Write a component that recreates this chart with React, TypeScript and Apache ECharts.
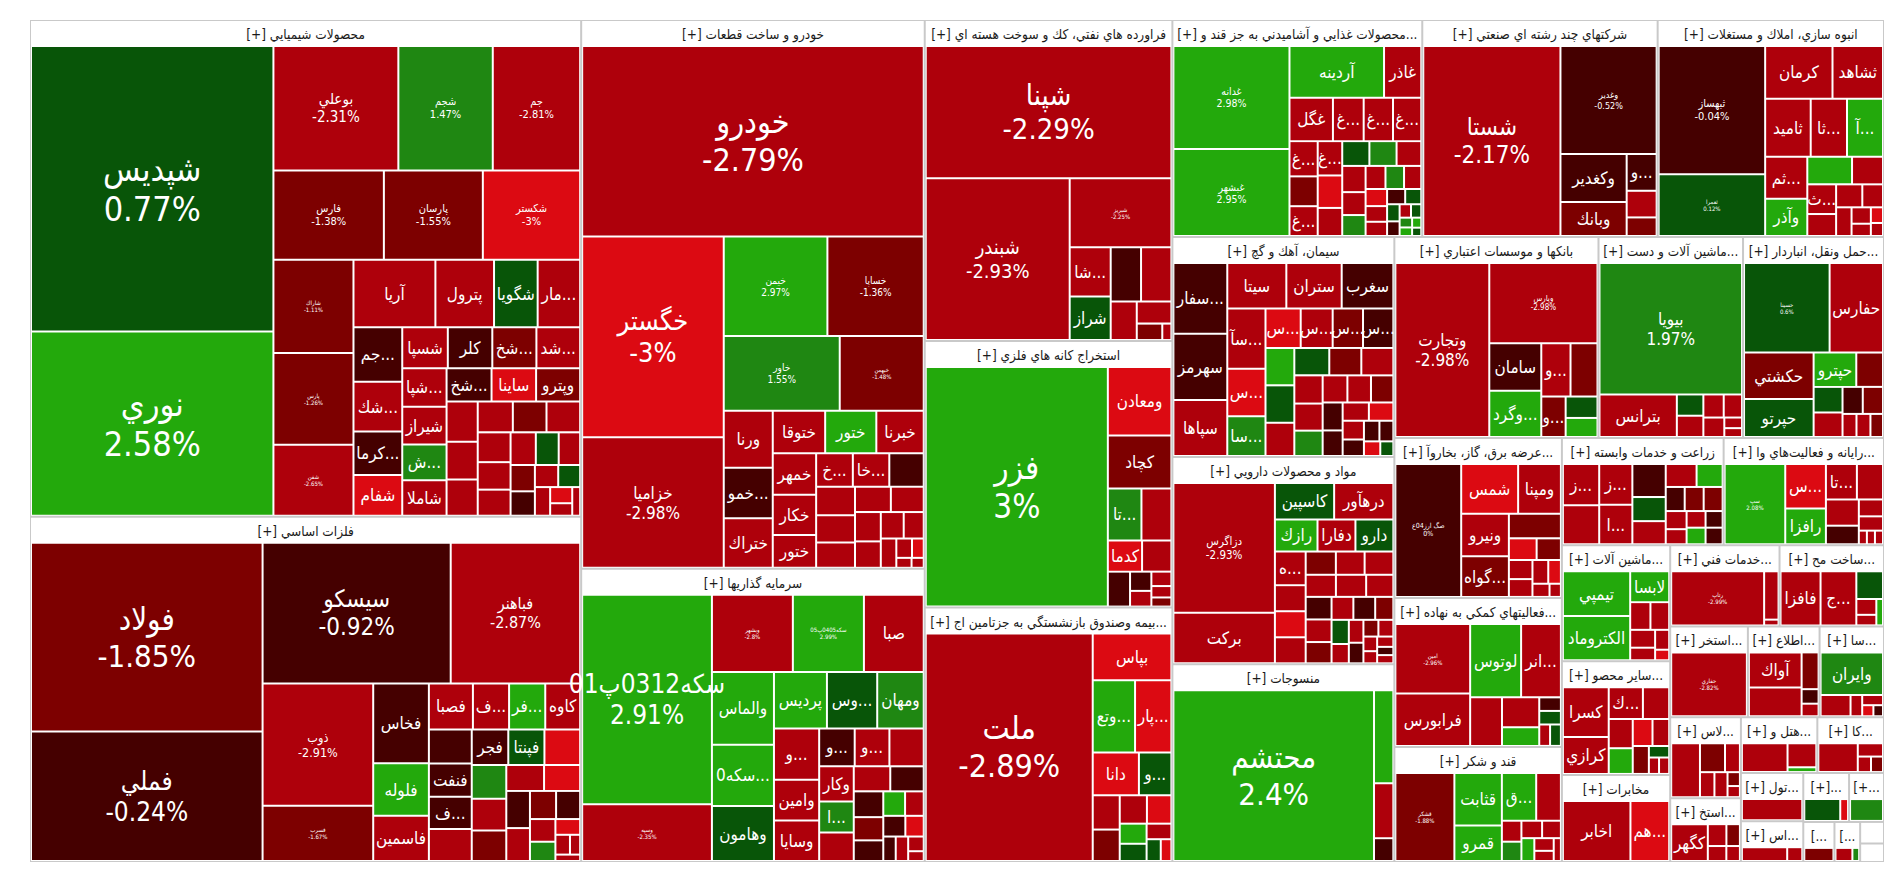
import React, { useEffect, useRef } from 'react';
import * as echarts from 'echarts';

type Leaf = [string, number, number]; // symbol, tile size, % change

const chemicals: Leaf[] = [
  ['شپديس', 48170, 0.77], ['نوري', 31060, 2.58], ['بوعلي', 10830, -2.31], ['شجم', 8185, 1.47],
  ['جم', 7575, -2.81], ['فارس', 6862, -1.38], ['پارسان', 6148, -1.55], ['شكستر', 6046, -3],
  ['شاراك', 5187, -1.11], ['پارس', 5116, -1.26], ['شفن', 3948, -2.65], ['آريا', 3835, -2.4],
  ['پترول', 2745, -2.5], ['شگويا', 2042, 0.6], ['مارون', 1990, -2.3], ['جم پيلن', 1855, -0.6],
  ['شكربن', 1688, -2.5], ['كرماشا', 1470, -0.8], ['شفام', 1386, -3.2], ['شسپا', 1302, -2.6],
  ['كلر', 1271, -0.7], ['شخارك', 1260, -1.6], ['شدوص', 1250, -2.5], ['شپاس', 1187, -2.4],
  ['شيراز', 1166, -2.3], ['شفارس', 1103, 1.3], ['شاملا', 1093, -2.5], ['شخراس', 1040, -0.9],
  ['ساينا', 1030, -3.1], ['وپترو', 1019, -1.7],
  ['', 872, -2.5], ['', 819, -2.4], ['', 787, -2.6], ['', 755, -2.5], ['', 724, -2.7], ['', 724, -1.6],
  ['', 681, -2.5], ['', 628, -2.4], ['', 596, -2.5], ['', 574, -2.6], ['', 520, 0.5], ['', 488, -2.5],
  ['', 445, -1.5], ['', 413, -0.5], ['', 358, -2.5], ['', 337, 0.5], ['', 304, -2.5], ['', 248, -3.2],
  ['', 192, -2.5], ['', 158, -2.4],
];

const metals: Leaf[] = [
  ['فولاد', 30300, -1.85], ['فملي', 20800, -0.24], ['سيسكو', 18370, -0.92], ['فباهنر', 12640, -2.87],
  ['ذوب', 9380, -2.91], ['فسرب', 4230, -1.67], ['فخاس', 3080, -0.7], ['فلوله', 2020, 2.5],
  ['فاسمين', 1750, -2.1], ['فصبا', 1400, -2.4], ['فروس', 1150, 2.2], ['فنورد', 1150, -2.5],
  ['كاوه', 1110, -2.6], ['فنفت', 990, -0.8], ['فسازان', 960, -0.7], ['فجر', 900, -0.6], ['فپنتا', 890, 0.5],
  ['', 1010, -0.6], ['', 950, -2.5], ['', 880, -3.2], ['', 810, 1.3], ['', 760, -2.5], ['', 730, -1.6],
  ['', 680, -2.5], ['', 650, -3.2], ['', 610, -0.6], ['', 540, -2.5], ['', 510, -1.6], ['', 470, -0.5],
  ['', 400, -2.5], ['', 340, 1.3], ['', 270, -3.2], ['', 200, -2.5], ['', 140, -2.5], ['', 110, -2.5],
];

const autos: Leaf[] = [
  ['خودرو', 42970, -2.79], ['خگستر', 18760, -3], ['خزاميا', 12200, -2.98], ['خيمن', 6800, 2.97],
  ['خساپا', 6320, -1.36], ['خاور', 5730, 1.55], ['خبهمن', 4150, -1.48], ['ورنا', 1840, -2.4],
  ['خموتور', 1640, -0.6], ['ختراك', 1600, -2.3], ['ختوقا', 1470, -2.5], ['ختور', 1435, 2.4],
  ['خبرنا', 1330, -2.4], ['خمهر', 1190, -2.5], ['خكار', 1150, -2.5], ['ختور', 940, -2.6],
  ['خديزل', 810, -2.5], ['خاذين', 805, -2.5], ['فنر', 730, -2.4],
  ['', 760, -0.6], ['', 700, -2.5], ['', 650, -2.5], ['', 600, -2.4], ['', 550, -2.5], ['', 500, -2.6],
  ['', 450, -2.5], ['', 400, -2.4], ['', 350, -2.5], ['', 300, -2.5], ['', 200, -2.5], ['', 150, -3.2],
  ['', 100, -2.5], ['', 80, -2.5],
];

const investments: Leaf[] = [
  ['سكه0312پ01', 17850, 2.91], ['وسپه', 4830, -2.35], ['وبشهر', 4100, -2.8], ['سكه0405پ05', 3600, 2.99],
  ['صبا', 3030, -2.4], ['والماس', 2960, 2.3], ['سكه0411پ04', 2500, 2.3], ['وهامون', 2240, 0.6],
  ['پرديس', 1970, 2.3], ['وسبحان', 1870, 0.6], ['ومهان', 1730, 1.4], ['وسمنان', 1520, -2.5],
  ['وامين', 1210, -2.4], ['وسايا', 1200, -2.5], ['وتوسم', 880, -0.6], ['ونيكي', 860, -2.5],
  ['', 850, -2.5], ['وكار', 800, -2.5], ['اتكاي', 700, 1.3],
  ['', 650, -2.5], ['', 600, -2.5], ['', 550, -0.6], ['', 500, -0.5], ['', 450, -1.6], ['', 400, -0.6],
  ['', 350, 2.3], ['', 300, -0.5], ['', 300, -2.5], ['', 250, -3.2], ['', 200, -2.5], ['', 200, -0.6],
  ['', 150, -2.4], ['', 100, -2.5],
];

const refinery: Leaf[] = [
  ['شپنا', 21700, -2.29], ['شبندر', 15540, -2.93], ['شبريز', 4680, -2.25], ['شاوان', 1350, -2.5],
  ['شراز', 1190, 0.6], ['', 1100, -2.5], ['', 1100, -0.6], ['', 670, -2.5], ['', 510, -2.5],
  ['', 280, -1.6], ['', 100, -2.5],
];

const mining: Leaf[] = [
  ['فزر', 28670, 3], ['ومعادن', 2860, -3.3], ['كچاد', 2210, -1.6], ['تاپيكو', 1150, 1.4],
  ['', 1025, -2.5], ['كدما', 700, -3.1], ['', 600, -2.5], ['', 510, -0.6], ['', 270, -0.6],
  ['', 220, -2.5], ['', 190, -2.5], ['', 150, -2.5], ['', 120, -1.6],
];

const insurance: Leaf[] = [
  ['ملت', 24600, -2.89], ['بپاس', 2380, -3.1], ['وتعاون', 1980, 2.3], ['پارسيان', 1700, -3.1],
  ['دانا', 1280, -3], ['وميهن', 900, 0.6],
  ['', 600, -2.5], ['', 550, -1.6], ['', 500, -2.5], ['', 450, -3.1], ['', 350, 2.3], ['', 300, 0.6],
  ['', 250, -2.5], ['', 200, 0.6], ['', 150, -3.1],
];

const foods: Leaf[] = [
  ['غدانه', 7810, 2.98], ['غبشهر', 6600, 2.95], ['آردينه', 3200, 2.5], ['غاذر', 1260, -2.4],
  ['غگل', 1230, -2.5], ['غپينو', 870, -2.4], ['غمينو', 830, -2.5], ['غشهد', 800, -2.5],
  ['غبهنوش', 650, -2.4], ['غنوش', 550, -2.5], ['غگرجي', 550, -2.4],
  ['', 550, -1.6], ['', 520, -3.1], ['', 440, 1.4], ['', 440, 0.6], ['', 400, -2.5],
  ['', 450, -2.5], ['', 400, -2.5], ['', 350, -2.5], ['', 320, 1.4], ['', 300, -2.5], ['', 280, 1.4],
  ['', 260, -2.5], ['', 240, -3.2], ['', 220, -2.5], ['', 200, -2.5], ['', 180, -0.6], ['', 160, 0.6],
  ['', 140, 0.6], ['', 120, -0.6], ['', 100, -2.5], ['', 90, 0.6], ['', 80, 1.4], ['', 70, 2.4],
  ['', 60, 2.4], ['', 50, 0.6],
];

const conglomerates: Leaf[] = [
  ['شستا', 17300, -2.17], ['وغدير', 6900, -0.52], ['وكغدير', 2100, -0.7], ['وبانك', 1500, -1.6],
  ['وصنا', 730, -0.6], ['', 530, -2.5], ['', 370, -1.6],
];

const realEstate: Leaf[] = [
  ['ثبهساز', 8630, -0.04], ['ثعمرا', 4150, 0.12], ['كرمان', 2240, -2.5], ['ثشاهد', 1680, -2.5],
  ['ثاميد', 1670, -2.5], ['ثالوند', 1330, -2.5], ['آ س پ', 1320, 2.3], ['ثمسكن', 1120, -2.5],
  ['وآذر', 990, 2.3], ['', 780, 2.3], ['ثنوسا', 540, -2.5], ['وساخت', 540, -2.5],
  ['', 400, -2.5], ['', 380, -2.5], ['', 300, -2.5], ['', 280, -2.5], ['', 200, -2.5], ['', 150, -2.5],
  ['', 120, -3.2], ['', 100, -2.5],
];

const cement: Leaf[] = [
  ['سفارس', 2390, -0.7], ['سهرمز', 2230, -0.6], ['سپاها', 1890, -2.5], ['سيتا', 1680, -2.5],
  ['ستران', 1575, -2.4], ['سغرب', 1470, -0.6], ['سآبيك', 1440, -2.5], ['سخاش', 1140, -3.1],
  ['سارود', 950, 1.4], ['سصوفي', 870, -3.1], ['سشمال', 790, -2.5], ['سكرما', 750, -0.6],
  ['سبهان', 750, -1.2], ['', 675, 0.6], ['', 675, 2.3], ['', 600, 0.6], ['', 550, -2.5],
  ['', 600, -2.5], ['', 550, -1.6], ['', 500, -2.5], ['', 480, -2.5], ['', 450, 1.3], ['', 420, -2.5],
  ['', 400, -2.5], ['', 380, -1.6], ['', 350, -0.6], ['', 320, -0.6], ['', 300, -2.5], ['', 280, -3.2],
  ['', 250, -2.5], ['', 220, -0.6], ['', 200, -0.6], ['', 180, -0.6], ['', 150, -3.2], ['', 120, 0.6],
];

const pharma: Leaf[] = [
  ['دزاگرس', 7880, -2.93], ['بركت', 3080, -2.5], ['درهآور', 1290, -2.5], ['كاسپين', 1290, 0.6],
  ['رازك', 820, 2.3], ['دارو', 730, 0.6], ['دفارا', 730, -2.5], ['هپارس', 620, -2.5],
  ['', 480, -2.5], ['', 480, -3.2], ['', 480, -2.5], ['', 420, -1.6], ['', 400, -2.5], ['', 400, -2.5],
  ['', 400, -2.5], ['', 400, -2.5], ['', 360, -2.5], ['', 350, -2.5], ['', 350, -0.6], ['', 330, -1.6],
  ['', 300, -0.6], ['', 300, -2.5], ['', 250, 0.6], ['', 250, -1.6], ['', 200, -2.5], ['', 200, -2.5],
  ['', 180, -0.6], ['', 150, -2.5], ['', 150, -1.6], ['', 120, -2.5], ['', 100, -2.5], ['', 100, -2.5],
  ['', 80, -2.5], ['', 80, -0.6],
];

const textiles: Leaf[] = [
  ['محتشم', 22500, 2.4], ['', 1180, 2.3], ['', 700, -2.5], ['', 290, -0.6],
];

const banks: Leaf[] = [
  ['وتجارت', 10780, -2.98], ['وپارس', 5720, -2.98], ['سامان', 1630, -0.6], ['وگردش', 1590, 2.3],
  ['وسينا', 1030, -2.5], ['', 950, -1.6], ['وخاور', 650, -1.6], ['', 450, 0.6], ['', 400, 2.3],
];

const electrical: Leaf[] = [
  ['بيويا', 11960, 1.97], ['بترانس', 2100, -2.5], ['', 360, -2.5], ['', 360, 0.6], ['', 300, -2.5],
  ['', 270, -2.5], ['', 260, -2.5], ['', 120, -2.5], ['', 100, -2.5],
];

const transport: Leaf[] = [
  ['حسينا', 4760, 0.6], ['حفارس', 2970, -2.5], ['حكشتي', 2010, -1.6], ['حپرتو', 1640, 0.6],
  ['حپترو', 910, 2.3], ['', 570, -1.6], ['', 460, 0.6], ['', 440, -2.5], ['', 340, -1.6],
  ['', 340, -0.6], ['', 200, -2.5], ['', 200, -2.5], ['', 180, -1.6],
];

const utilities: Leaf[] = [
  ['صگ ارز04ع', 5830, 0], ['شمس', 1890, -3.1], ['ومپنا', 1420, -2.5], ['ونيرو', 1350, -2.5],
  ['گواهي ظرفيت', 1290, -1.6], ['بجهرم', 850, -1.6],
  ['', 400, -3.2], ['', 350, -1.6], ['', 300, -2.5], ['', 280, -2.5], ['', 250, -2.5], ['', 200, -3.2],
  ['', 150, -2.5], ['', 100, -2.5],
];

const farming: Leaf[] = [
  ['زمگسا', 950, -2.5], ['', 900, -2.5], ['زشريف', 860, -2.5], ['انگبين', 830, -2.5], ['', 700, -0.6],
  ['', 510, 0.6], ['', 490, -2.5], ['', 450, -2.5], ['', 380, 2.3], ['', 290, -1.6], ['', 290, -1.6],
  ['', 290, -0.6], ['', 240, -2.5], ['', 200, 2.3], ['', 200, -2.5], ['', 200, -2.5], ['', 180, -0.6],
  ['', 180, -0.6],
];

const computing: Leaf[] = [
  ['سپ', 3100, 2.08], ['سيستم', 1150, -3.1], ['رافزا', 930, 2.3], ['تاپكيش', 700, -2.5],
  ['', 590, -2.5], ['', 550, -2.5], ['', 390, -0.6], ['', 260, -2.5], ['', 220, -2.5],
  ['', 70, -2.5], ['', 70, -2.5], ['', 70, -2.5],
];

const financialAux: Leaf[] = [
  ['امين', 3360, -2.96], ['فرابورس', 2540, -2.5], ['لوتوس', 2420, 2.3], ['انرژي3', 1890, -2.5],
  ['', 1000, -2.5], ['', 720, -2.5], ['', 450, 2.3], ['', 190, 0.6], ['', 150, 0.6], ['', 190, -0.6],
  ['', 150, -2.5],
];

const sugar: Leaf[] = [
  ['قشكر', 3170, -1.88], ['قثابت', 1520, 2.3], ['قمرو', 1030, 2.3], ['قشير', 1000, 2.3], ['', 720, -2.5],
  ['', 250, -2.5], ['', 230, 1.4], ['', 220, -2.5], ['', 200, -2.5], ['', 180, 2.3], ['', 150, -2.5],
  ['', 120, -2.5], ['', 100, -2.5],
];

const machinery: Leaf[] = [
  ['تيمپي', 1820, 2.3], ['الكتروماد', 1810, 2.3], ['لابسا', 730, 2.3], ['', 340, -2.5], ['', 315, -2.5],
  ['', 270, -2.5], ['', 190, -2.5], ['', 170, -2.5], ['', 90, -3.2],
];

const engineering: Leaf[] = [['رتاپ', 3030, -2.99], ['', 420, -2.5], ['', 50, -2.5]];

const metalProducts: Leaf[] = [
  ['فافزا', 1230, -2.5], ['جوين', 1100, -2.5], ['', 420, 0.6], ['', 180, -2.5], ['', 120, -2.5], ['', 100, 2.3],
];

const minerals: Leaf[] = [
  ['كسرا', 1365, -2.5], ['كرازي', 1015, -2.5], ['كفپارس', 650, -2.5], ['', 500, -2.5], ['', 420, -2.5],
  ['', 370, 2.3], ['', 320, -3.2], ['', 270, -1.6], ['', 270, -2.5], ['', 140, 0.6], ['', 100, -2.5],
  ['', 100, -2.5],
];

const telecom: Leaf[] = [['اخابر', 2650, -2.5], ['همراه', 1520, -3.1]];
const oilGas: Leaf[] = [['حفاري', 3000, -2.82]];
const infoComm: Leaf[] = [
  ['آواك', 1130, -2.5], ['هاي وب', 920, -2.5], ['', 380, -1.6], ['', 150, -0.6], ['', 130, -2.5],
];
const commDevices: Leaf[] = [
  ['وايران', 1500, 1.4], ['', 360, -2.5], ['', 140, -2.5], ['', 120, -2.5], ['', 70, -3.2], ['', 60, -0.6],
];
const rubber: Leaf[] = [
  ['', 900, -2.5], ['', 420, -1.6], ['', 250, -2.5], ['', 210, -2.5], ['', 190, -2.5], ['', 100, -1.6], ['', 80, -2.5],
];
const otherMining: Leaf[] = [
  ['كگهر', 730, -2.5], ['', 220, -2.5], ['', 160, -1.6], ['', 150, -2.5], ['', 110, -2.5],
];
const hotels: Leaf[] = [['', 760, -2.5], ['', 400, -2.5], ['', 80, 2.3]];
const tiles: Leaf[] = [['', 610, -2.5], ['', 180, -2.5], ['', 110, -2.5], ['', 100, -1.6]];
const electronics: Leaf[] = [['', 780, -2.5]];
const printing: Leaf[] = [['', 460, 0.6], ['', 100, -3.1]];
const wood: Leaf[] = [['', 370, 1.4]];
const coal: Leaf[] = [['', 360, -2.5], ['', 120, -2.5]];
const woodProducts: Leaf[] = [['', 210, -1.6]];
const paper: Leaf[] = [['', 150, -2.5], ['', 60, 1.4]];
const leather: Leaf[] = [['', 50, -2.5]];
const misc: Leaf[] = [['', 50, -2.5]];

const sectorNames = [
  'محصولات شيميايي', 'فلزات اساسي', 'خودرو و ساخت قطعات', 'سرمايه گذاريها',
  'فراورده هاي نفتي، كك و سوخت هسته اي', 'استخراج كانه هاي فلزي', 'بيمه وصندوق بازنشستگي به جزتامين اجتماعي',
  'محصولات غذايي و آشاميدني به جز قند و شكر', 'شركتهاي چند رشته اي صنعتي', 'انبوه سازي، املاك و مستغلات',
  'سيمان، آهك و گچ', 'مواد و محصولات دارويي', 'منسوجات', 'بانكها و موسسات اعتباري',
  'ماشين آلات و دستگاه هاي برقي', 'حمل ونقل، انبارداري و ارتباطات', 'عرضه برق، گاز، بخاروآب گرم',
  'زراعت و خدمات وابسته', 'رايانه و فعاليت‌هاي وابسته به آن', 'فعاليتهاي كمكي به نهادهاي مالي واسط',
  'قند و شكر', 'ماشين آلات و تجهيزات', 'خدمات فني و مهندسي', 'ساخت محصولات فلزي',
  'ساير محصولات كاني غيرفلزي', 'مخابرات', 'استخراج نفت گاز و خدمات جنبي جز اكتشاف', 'اطلاعات و ارتباطات',
  'ساخت دستگاه‌ها و وسايل ارتباطي', 'لاستيك و پلاستيك', 'استخراج ساير معادن', 'هتل و رستوران',
  'كاشي و سراميك', 'توليد محصولات كامپيوتري الكترونيكي ونوري', 'انتشار، چاپ و تكثير', 'چوب',
  'استخراج زغال سنگ', 'محصولات چوبي', 'محصولات كاغذي', 'دباغي، پرداخت چرم', 'ساير',
];

const sectorSizes = [
  186140, 129390, 128200, 68490, 54060, 44880, 42840, 36870, 34730, 33400,
  33200, 31290, 29830, 27890, 19750, 19260, 18220, 11800, 11700, 16970,
  13110, 8540, 6030, 5760, 8370, 6410, 4800, 4430, 3980, 3890,
  3070, 2900, 2530, 2040, 1520, 1160, 1730, 850, 700, 350, 300,
];

const sectorLeaves = [
  chemicals, metals, autos, investments, refinery, mining, insurance, foods, conglomerates, realEstate,
  cement, pharma, textiles, banks, electrical, transport, utilities, farming, computing, financialAux,
  sugar, machinery, engineering, metalProducts, minerals, telecom, oilGas, infoComm, commDevices, rubber,
  otherMining, hotels, tiles, electronics, printing, wood, coal, woodProducts, paper, leather, misc,
];

// font size (px) for tiles that show symbol and % change
const pctLabelSize: Record<string, number> = {
  'شپديس': 34, 'نوري': 34, 'خودرو': 32, 'فولاد': 31, 'ملت': 32, 'فزر': 33, 'محتشم': 31, 'شپنا': 29,
  'خگستر': 27, 'فملي': 26, 'سكه0312پ01': 26, 'سيسكو': 24, 'شستا': 24, 'شبندر': 20, 'خزاميا': 17,
  'وتجارت': 17, 'بيويا': 17, 'فباهنر': 16, 'بوعلي': 15, 'ذوب': 12.5, 'دزاگرس': 11.5, 'جم': 11,
  'شجم': 11, 'فارس': 11, 'پارسان': 11, 'شكستر': 11, 'ثبهساز': 11, 'غدانه': 10.5, 'غبشهر': 10.5,
  'خيمن': 10, 'خساپا': 10, 'خاور': 10, 'وغدير': 9, 'وپارس': 8,
  'شاراك': 6, 'پارس': 6, 'شفن': 6, 'فسرب': 6, 'خبهمن': 6, 'وسپه': 6, 'وبشهر': 6, 'سكه0405پ05': 6,
  'شبريز': 6, 'ثعمرا': 6, 'حسينا': 6, 'صگ ارز04ع': 7, 'سپ': 6, 'امين': 6, 'قشكر': 6, 'رتاپ': 6, 'حفاري': 6,
};

function colorFor(p: number): string {
  if (p >= 2) return '#23a90c';
  if (p >= 1) return '#1f8712';
  if (p > 0) return '#085508';
  if (p > -1) return '#450000';
  if (p > -2) return '#7d0000';
  if (p > -3) return '#ae000b';
  return '#dc0a12';
}

const FONT = '"DejaVu Sans Condensed", "Noto Sans", "DejaVu Sans", sans-serif';
const HEADER_SIZE = 13.5;
const NAME_SIZE = 17;

function buildData() {
  return sectorNames.map((name, i) => ({
    name,
    value: sectorSizes[i],
    children: sectorLeaves[i].map(([n, v, p]) => {
      const fs = pctLabelSize[n];
      const item: any = { name: n, value: v, pct: p, itemStyle: { color: colorFor(p) } };
      if (fs) item.label = { fontSize: fs, lineHeight: Math.round(fs * 1.18) };
      else if (!n) item.label = { show: false };
      return item;
    }),
  }));
}

function makeOption(fitted: Record<number, string> | null) {
  return {
    animation: false,
    backgroundColor: '#ffffff',
    tooltip: { show: false },
    series: [
      {
        type: 'treemap',
        left: 22,
        top: 12,
        width: 1854,
        height: 842,
        roam: false,
        nodeClick: false,
        breadcrumb: { show: false },
        squareRatio: 1,
        sort: 'desc',
        visibleMin: 1,
        silent: true,
        levels: [
          {
            itemStyle: { borderWidth: 1, borderColor: '#c9c9c9', gapWidth: 2, color: '#ffffff' },
            upperLabel: { show: false },
          },
          {
            itemStyle: { borderWidth: 1, borderColor: '#ffffff', gapWidth: 2, color: '#ffffff' },
            upperLabel: {
              show: true,
              height: 26,
              color: '#1a1a1a',
              fontSize: HEADER_SIZE,
              fontFamily: FONT,
              position: 'inside',
              align: 'center',
              verticalAlign: 'middle',
              overflow: fitted ? 'none' : 'truncate',
              ellipsis: '...',
              formatter: (p: any) =>
                fitted && fitted[p.dataIndex] != null ? fitted[p.dataIndex] : '[+] ' + p.name,
            },
          },
          {
            itemStyle: { borderWidth: 0, gapWidth: 0 },
            label: {
              show: true,
              position: 'inside',
              color: '#ffffff',
              fontSize: NAME_SIZE,
              fontFamily: FONT,
              overflow: fitted ? 'none' : 'truncate',
              ellipsis: '...',
              formatter: (p: any) => {
                const d = p.data || {};
                if (!d.name) return '';
                if (pctLabelSize[d.name]) return `${d.name}\n${d.pct}%`;
                return fitted && fitted[p.dataIndex] != null ? fitted[p.dataIndex] : d.name;
              },
            },
          },
        ],
        data: buildData(),
      },
    ],
  };
}

function fitText(full: string, avail: number, size: number, ctx: CanvasRenderingContext2D): string {
  ctx.font = `${size}px ${FONT}`;
  if (ctx.measureText(full).width <= avail) return full;
  for (let k = full.length - 1; k >= 1; k--) {
    const t = full.slice(0, k).replace(/\s+$/, '') + '...';
    if (ctx.measureText(t).width <= avail) return t;
  }
  return full.slice(0, 1) + '...';
}

export default function App() {
  const ref = useRef<HTMLDivElement>(null);
  useEffect(() => {
    if (!ref.current) return;
    const chart = echarts.init(ref.current, undefined, { renderer: 'svg' });
    chart.setOption(makeOption(null));
    try {
      const ctx = document.createElement('canvas').getContext('2d') as CanvasRenderingContext2D;
      const sm: any = (chart as any).getModel().getSeriesByIndex(0);
      const tree = sm.getData().tree;
      const fitted: Record<number, string> = {};
      tree.root.eachNode((node: any) => {
        const lay = node.getLayout && node.getLayout();
        if (!lay || !lay.width) return;
        const name = node.name || '';
        if (node.depth === 1) {
          fitted[node.dataIndex] = fitText('[+] ' + name, lay.width - 6, HEADER_SIZE, ctx);
        } else if (node.depth === 2 && name && !pctLabelSize[name]) {
          fitted[node.dataIndex] = fitText(name, lay.width - 3, NAME_SIZE, ctx);
        }
      });
      chart.setOption(makeOption(fitted), true);
    } catch (e) {
      // keep ECharts' own truncation
    }
    return () => chart.dispose();
  }, []);
  return (
    <div
      ref={ref}
      style={{ position: 'fixed', left: 0, top: 0, width: 1900, height: 873, background: '#fff' }}
    />
  );
}
